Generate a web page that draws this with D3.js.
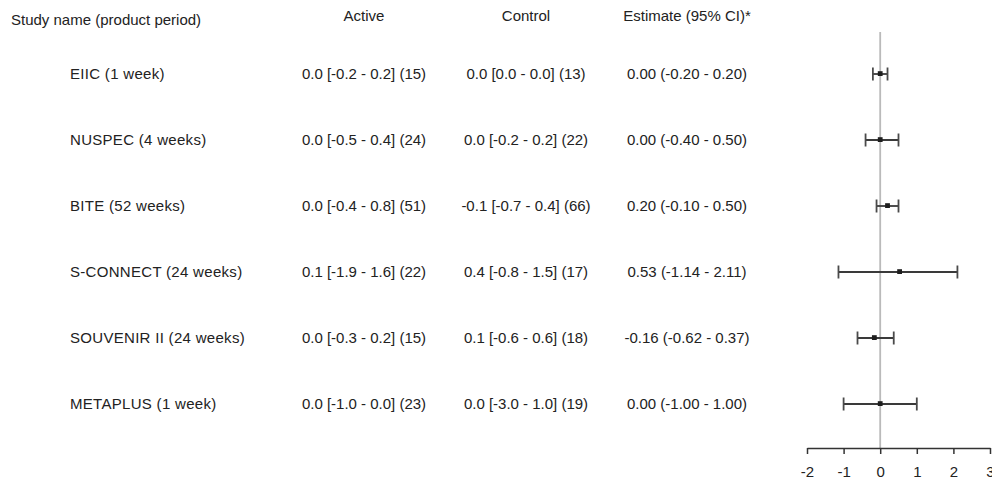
<!DOCTYPE html>
<html>
<head>
<meta charset="utf-8">
<script src="https://cdn.jsdelivr.net/npm/d3@7"></script>
<style>
  html, body { margin: 0; padding: 0; background: #fff; }
  svg text { font-family: Arial, "Liberation Sans", sans-serif; fill: #222; }
</style>
</head>
<body>
<svg id="chart" width="992" height="481"></svg>
<script>
// Study rows
const studies = ["EIIC (1 week)", "NUSPEC (4 weeks)", "BITE (52 weeks)",
                 "S-CONNECT (24 weeks)", "SOUVENIR II (24 weeks)", "METAPLUS (1 week)"];

// Active arm: median [IQR] (n)
const activeMed  = [0.0, 0.0, 0.0, 0.1, 0.0, 0.0];
const activeLow  = [-0.2, -0.5, -0.4, -1.9, -0.3, -1.0];
const activeHigh = [0.2, 0.4, 0.8, 1.6, 0.2, 0.0];
const activeN    = [15, 24, 51, 22, 15, 23];

// Control arm: median [IQR] (n)
const controlMed  = [0.0, 0.0, -0.1, 0.4, 0.1, 0.0];
const controlLow  = [0.0, -0.2, -0.7, -0.8, -0.6, -3.0];
const controlHigh = [0.0, 0.2, 0.4, 1.5, 0.6, 1.0];
const controlN    = [13, 22, 66, 17, 18, 19];

// Treatment effect estimates with 95% CI
const estimate = [0.00, 0.00, 0.20, 0.53, -0.16, 0.00];
const ciLower  = [-0.20, -0.40, -0.10, -1.14, -0.62, -1.00];
const ciUpper  = [0.20, 0.50, 0.50, 2.11, 0.37, 1.00];

const axisTicks = [-2, -1, 0, 1, 2, 3];
const headers = ["Study name (product period)", "Active", "Control", "Estimate (95% CI)*"];

const svg = d3.select("#chart");
const fs = 15;

const x = d3.scaleLinear().domain([-2, 3]).range([807, 990]);
const y = d3.scalePoint().domain(d3.range(studies.length)).range([74, 404]);
const axisY = 448;

const f1 = v => v.toFixed(1);
const f2 = v => v.toFixed(2);

// Column headers
svg.append("text").attr("x", 11).attr("y", 20).attr("dy", "0.35em")
  .style("font-size", fs + "px").text(headers[0]);
const colX = [364, 526, 687];
headers.slice(1).forEach((h, i) => {
  svg.append("text").attr("x", colX[i]).attr("y", 16).attr("dy", "0.35em")
    .attr("text-anchor", "middle").style("font-size", fs + "px").text(h);
});

// Table rows
const rows = svg.append("g").selectAll("g").data(studies).join("g")
  .attr("transform", (d, i) => `translate(0,${y(i)})`);

rows.append("text").attr("x", 70).attr("dy", "0.35em")
  .style("font-size", fs + "px").style("letter-spacing", "0.3px").text(d => d);
rows.append("text").attr("x", colX[0]).attr("dy", "0.35em").attr("text-anchor", "middle")
  .style("font-size", fs + "px")
  .text((d, i) => `${f1(activeMed[i])} [${f1(activeLow[i])} - ${f1(activeHigh[i])}] (${activeN[i]})`);
rows.append("text").attr("x", colX[1]).attr("dy", "0.35em").attr("text-anchor", "middle")
  .style("font-size", fs + "px")
  .text((d, i) => `${f1(controlMed[i])} [${f1(controlLow[i])} - ${f1(controlHigh[i])}] (${controlN[i]})`);
rows.append("text").attr("x", colX[2]).attr("dy", "0.35em").attr("text-anchor", "middle")
  .style("font-size", fs + "px")
  .text((d, i) => `${f2(estimate[i])} (${f2(ciLower[i])} - ${f2(ciUpper[i])})`);

// Reference line at zero
svg.append("line")
  .attr("x1", x(0)).attr("x2", x(0)).attr("y1", 32).attr("y2", axisY)
  .attr("stroke", "#bababa").attr("stroke-width", 1.8);

// Confidence intervals
const ci = svg.append("g").selectAll("g").data(studies).join("g")
  .attr("transform", (d, i) => `translate(0,${y(i)})`);
ci.append("line")
  .attr("x1", (d, i) => x(ciLower[i])).attr("x2", (d, i) => x(ciUpper[i]))
  .attr("stroke", "#3a3a3a").attr("stroke-width", 1.8);
ci.append("line")
  .attr("x1", (d, i) => x(ciLower[i])).attr("x2", (d, i) => x(ciLower[i]))
  .attr("y1", -6.5).attr("y2", 6.5).attr("stroke", "#4a4a4a").attr("stroke-width", 1.8);
ci.append("line")
  .attr("x1", (d, i) => x(ciUpper[i])).attr("x2", (d, i) => x(ciUpper[i]))
  .attr("y1", -6.5).attr("y2", 6.5).attr("stroke", "#4a4a4a").attr("stroke-width", 1.8);
ci.append("rect")
  .attr("x", (d, i) => x(estimate[i]) - 2.4).attr("y", -2.8)
  .attr("width", 4.8).attr("height", 4.8).attr("fill", "#1e1e1e");

// Bottom axis
const axis = svg.append("g").attr("transform", `translate(0,${axisY})`)
  .call(d3.axisBottom(x).tickValues(axisTicks).tickSize(6).tickSizeOuter(0).tickFormat(d3.format("d")));
axis.select(".domain").attr("stroke", "#333").attr("stroke-width", 1.5);
axis.selectAll(".tick line").attr("stroke", "#333").attr("stroke-width", 1.5);
axis.selectAll(".tick text").attr("y", 18).style("font-size", "15px")
  .style("font-family", "Arial, 'Liberation Sans', sans-serif").attr("fill", "#222")
  .text(d => d < 0 ? "-" + Math.abs(d) : d);
</script>
</body>
</html>
